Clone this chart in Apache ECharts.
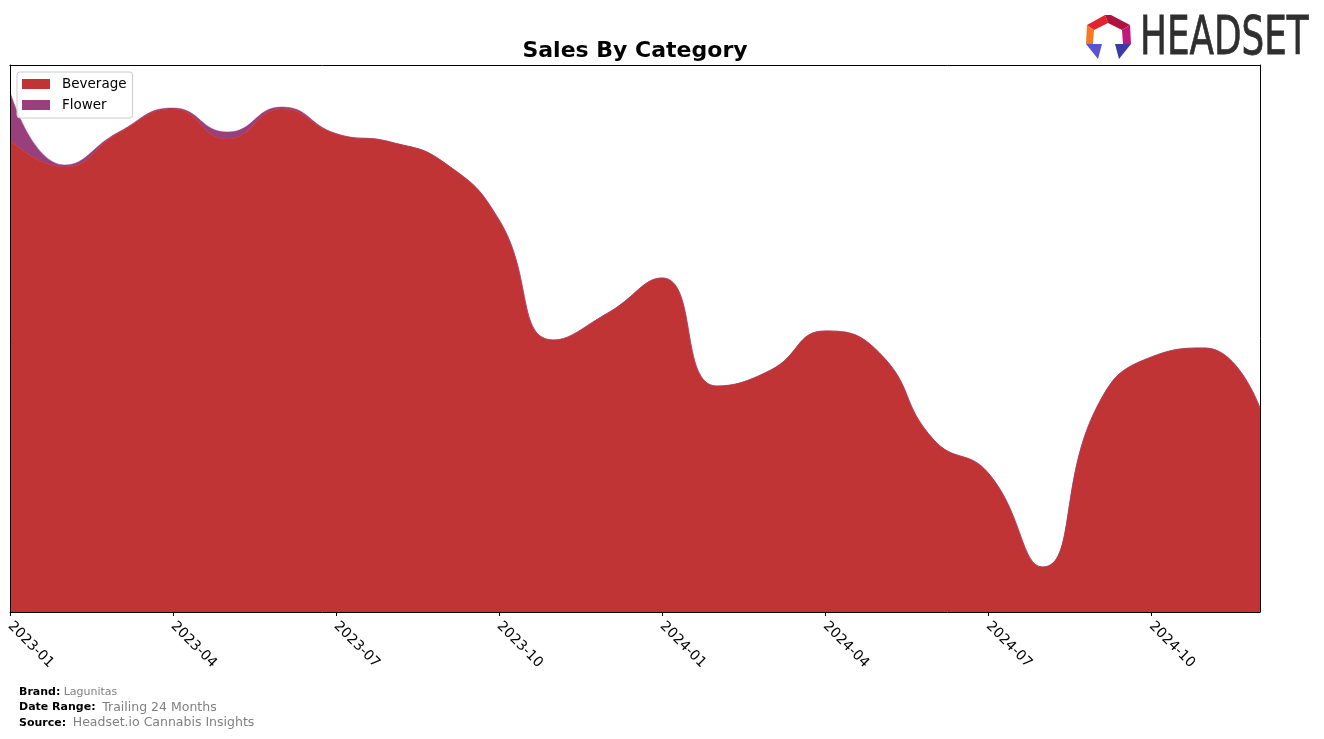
<!DOCTYPE html>
<html>
<head>
<meta charset="utf-8">
<script src="https://cdn.jsdelivr.net/npm/echarts@6/dist/echarts.min.js"></script>
<style>
html,body{margin:0;padding:0;background:#fff;}
#chart{width:1324px;height:739px;}
</style>
</head>
<body>
<div id="chart"></div>
<script>
const categories = ['2023-01','2023-02','2023-03','2023-04','2023-05','2023-06','2023-07','2023-08','2023-09','2023-10','2023-11','2023-12',
  '2024-01','2024-02','2024-03','2024-04','2024-05','2024-06','2024-07','2024-08','2024-09','2024-10','2024-11','2024-12'];
const beverage = [472, 445, 479, 503, 473, 503, 478, 470, 449, 392, 272, 299,
  334, 226, 242, 281, 259, 172, 139, 45, 205, 255, 264, 204];
const flower = [48, 2, 1, 1, 7, 2, 0.5, 0, 0, 0, 0, 0,
  0, 0, 0, 0, 0, 0, 0, 0, 0, 0, 0, 0];
const tickLabels = ['2023-01','2023-04','2023-07','2023-10','2024-01','2024-04','2024-07','2024-10'];
const seriesNames = ['Beverage', 'Flower'];
const colors = ['#c03435', '#993f7b'];

const chart = echarts.init(document.getElementById('chart'), null, {renderer: 'canvas'});
const isTick = (i, v) => tickLabels.indexOf(categories[i]) >= 0;
const font = 'DejaVu Sans, sans-serif';

chart.setOption({
  animation: false,
  backgroundColor: '#fff',
  title: {
    text: 'Sales By Category',
    left: 630, textAlign: 'center', top: 35,
    textStyle: {fontFamily: font, fontWeight: 'bold', fontSize: 22, color: '#000'}
  },
  legend: {
    data: seriesNames,
    orient: 'vertical',
    left: 17, top: 72,
    padding: [5, 6, 6, 5],
    itemGap: 7,
    itemWidth: 28, itemHeight: 10,
    icon: 'rect',
    backgroundColor: 'rgba(255,255,255,0.85)',
    borderColor: '#cccccc', borderWidth: 1, borderRadius: 3,
    textStyle: {fontFamily: font, fontSize: 13.5, color: '#000', padding: [0, 0, 0, 7], lineHeight: 14}
  },
  grid: {left: 10, right: 64, top: 65, bottom: 127, containLabel: false},
  xAxis: [{
    type: 'category', data: categories, boundaryGap: false, z: 5,
    axisLine: {show: true, onZero: false, lineStyle: {color: '#000', width: 1}},
    axisTick: {show: true, interval: isTick, length: 4, lineStyle: {color: '#000'}},
    axisLabel: {interval: isTick, rotate: -45, margin: 12, fontFamily: font, fontSize: 14, color: '#000'},
    splitLine: {show: false}
  }, {
    type: 'category', data: categories, boundaryGap: false, position: 'top', z: 5,
    axisLine: {show: true, onZero: false, lineStyle: {color: '#000', width: 1}},
    axisTick: {show: false}, axisLabel: {show: false}, splitLine: {show: false}
  }],
  yAxis: [{
    type: 'value', min: 0, max: 547, z: 5,
    axisLine: {show: true, onZero: false, lineStyle: {color: '#000', width: 1}},
    axisTick: {show: false}, axisLabel: {show: false}, splitLine: {show: false}
  }, {
    type: 'value', min: 0, max: 547, position: 'right', z: 5,
    axisLine: {show: true, onZero: false, lineStyle: {color: '#000', width: 1}},
    axisTick: {show: false}, axisLabel: {show: false}, splitLine: {show: false}
  }],
  series: [
    {
      name: seriesNames[0], type: 'line', stack: 'total', data: beverage,
      smooth: 0.5, symbol: 'none', color: colors[0],
      lineStyle: {width: 0.8, color: colors[0]},
      areaStyle: {color: colors[0], opacity: 1}
    },
    {
      name: seriesNames[1], type: 'line', stack: 'total', data: flower,
      smooth: 0.5, symbol: 'none', color: colors[1],
      lineStyle: {width: 0.5, color: colors[1]},
      areaStyle: {color: colors[1], opacity: 1}
    }
  ],
  graphic: [
    {
      type: 'group',
      children: [
        {type: 'polygon', shape: {points: [[1087,25],[1086,44],[1093,44],[1094,30]]}, style: {fill: '#f37a23'}},
        {type: 'polygon', shape: {points: [[1087,25],[1105,15],[1108,23],[1094,30]]}, style: {fill: '#e2242f'}},
        {type: 'polygon', shape: {points: [[1105,15],[1111,15],[1130,25],[1122,30],[1108,23]]}, style: {fill: '#b0143c'}},
        {type: 'polygon', shape: {points: [[1130,25],[1131,44],[1123,44],[1122,30]]}, style: {fill: '#c0197c'}},
        {type: 'polygon', shape: {points: [[1086,44],[1102,44],[1098,59]]}, style: {fill: '#5a52d0'}},
        {type: 'polygon', shape: {points: [[1115,44],[1131,44],[1119,59]]}, style: {fill: '#3a3aa8'}},
        {type: 'text', x: 1140, y: 14, scaleX: 0.675, scaleY: 1,
          style: {text: 'HEADSET', fill: '#2f2f2f', stroke: '#2f2f2f', lineWidth: 0.8, font: '53px "DejaVu Sans", sans-serif', verticalAlign: 'top'}}
      ]
    },
    {
      type: 'text', left: 19, top: 686,
      style: {
        text: '{b|Brand:} {g|Lagunitas}\n{b|Date Range:}  {h|Trailing 24 Months}\n{b|Source:}  {h|Headset.io Cannabis Insights}',
        rich: {
          b: {fontFamily: font, fontWeight: 'bold', fontSize: 11, fill: '#000', lineHeight: 15.5},
          g: {fontFamily: font, fontSize: 11, fill: '#808080', lineHeight: 15.5},
          h: {fontFamily: font, fontSize: 12.5, fill: '#808080', lineHeight: 15.5}
        }
      }
    }
  ]
});
</script>
</body>
</html>
